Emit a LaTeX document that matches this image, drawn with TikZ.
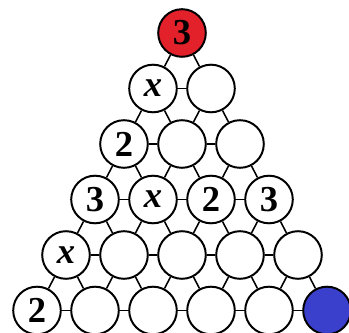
\documentclass[tikz,border=0pt]{standalone}
\usepackage{fontspec}
\setmainfont{Liberation Serif}
\usepackage{xcolor}
\definecolor{ballred}{HTML}{E3212B}
\definecolor{ballblue}{HTML}{3B40CC}

\begin{document}
\begin{tikzpicture}[
  x=0.025cm, y=-0.025cm,
  ball/.style={draw, circle, line width=1.4pt, minimum size=1.19cm, inner sep=0pt, fill=white, font=\fontsize{26}{26}\selectfont\bfseries},
  link/.style={line width=1.1pt}
]
  \useasboundingbox (0,0) rectangle (349,333);

  % row 1
  \node[ball, fill=ballred] (n11) at (182,33) {3};
  % row 2
  \node[ball] (n21) at (153,88.5) {\itshape x};
  \node[ball] (n22) at (211,88.5) {};
  % row 3
  \node[ball] (n31) at (124,144) {2};
  \node[ball] (n32) at (182,144) {};
  \node[ball] (n33) at (240,144) {};
  % row 4
  \node[ball] (n41) at (95,199.5)  {3};
  \node[ball] (n42) at (153,199.5) {\itshape x};
  \node[ball] (n43) at (211,199.5) {2};
  \node[ball] (n44) at (269,199.5) {3};
  % row 5
  \node[ball] (n51) at (66,255)  {\itshape x};
  \node[ball] (n52) at (124,255) {};
  \node[ball] (n53) at (182,255) {};
  \node[ball] (n54) at (240,255) {};
  \node[ball] (n55) at (298,255) {};
  % row 6
  \node[ball] (n61) at (37,310.5)  {2};
  \node[ball] (n62) at (95,310.5)  {};
  \node[ball] (n63) at (153,310.5) {};
  \node[ball] (n64) at (211,310.5) {};
  \node[ball] (n65) at (269,310.5) {};
  \node[ball, fill=ballblue] (n66) at (327,310.5) {};

  % links inside a row
  \foreach \r in {2,...,6} {
    \pgfmathtruncatemacro{\last}{\r-1}
    \foreach \k in {1,...,\last} {
      \pgfmathtruncatemacro{\nxt}{\k+1}
      \draw[link] (n\r\k) -- (n\r\nxt);
    }
  }
  % links down to the next row
  \foreach \r in {1,...,5} {
    \pgfmathtruncatemacro{\dn}{\r+1}
    \foreach \k in {1,...,\r} {
      \pgfmathtruncatemacro{\nxt}{\k+1}
      \draw[link] (n\r\k) -- (n\dn\k);
      \draw[link] (n\r\k) -- (n\dn\nxt);
    }
  }
\end{tikzpicture}
\end{document}
